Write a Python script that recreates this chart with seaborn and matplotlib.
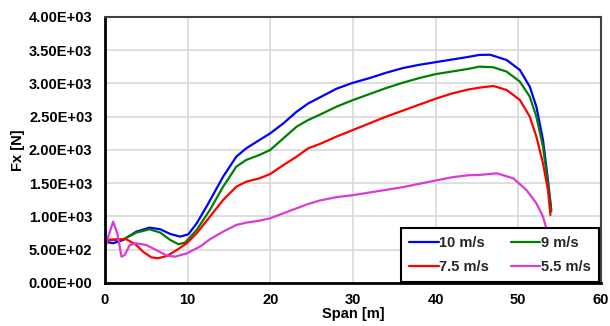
import matplotlib
matplotlib.use("Agg")
import matplotlib.pyplot as plt
import seaborn as sns
import pandas as pd

# ---- data ----
span_10 = [0, 1.0, 2.2, 3.8, 5.4, 6.7, 7.9, 9.1, 10.1, 11.1, 12.3, 14.3, 15.9, 17.1, 18.7, 20,
           21.6, 23.2, 24.6, 26, 28, 30, 32, 34, 36, 38, 40, 42, 44, 45.3, 46.6, 48.6, 50.2,
           51.4, 52.2, 53.0, 53.6, 54.0]
fx_10 = [621, 597, 647, 772, 832, 807, 737, 697, 732, 897, 1150, 1598, 1900, 2025, 2150, 2250,
         2401, 2576, 2700, 2790, 2920, 3010, 3080, 3160, 3230, 3280, 3320, 3360, 3400, 3429, 3432,
         3353, 3203, 2952, 2651, 2150, 1549, 1098]

span_9 = [0, 1.0, 2.2, 3.8, 5.4, 6.7, 7.9, 8.9, 9.7, 11.1, 12.7, 14.3, 15.9, 17.1, 18.7, 20,
          21.6, 23.2, 24.6, 26, 28, 30, 32, 34, 36, 38, 40, 42, 44, 45.3, 47.0, 48.6, 50.2,
          51.4, 52.2, 53.0, 53.6, 54.0]
fx_9 = [640, 645, 657, 757, 807, 757, 647, 582, 607, 797, 1098, 1448, 1749, 1850, 1925, 2000,
        2176, 2351, 2451, 2530, 2650, 2750, 2840, 2930, 3010, 3080, 3140, 3180, 3220, 3253, 3243,
        3178, 3028, 2802, 2501, 2050, 1499, 1073]

span_75 = [0, 1.4, 2.6, 3.8, 4.6, 5.6, 6.4, 7.5, 8.7, 9.9, 11.1, 12.7, 14.3, 15.9, 17.1, 18.7,
           20, 21.6, 23.2, 24.6, 26, 28, 30, 32, 34, 36, 38, 40, 42, 44, 45.3, 47.0, 48.6,
           50.2, 51.4, 52.2, 53.0, 53.6, 53.9]
fx_75 = [647, 657, 657, 571, 471, 386, 371, 406, 496, 597, 747, 997, 1248, 1448, 1523, 1574,
         1639, 1774, 1900, 2025, 2090, 2200, 2300, 2400, 2500, 2590, 2680, 2770, 2850, 2910,
         2937, 2962, 2902, 2752, 2501, 2200, 1800, 1398, 1022]

span_55 = [0, 0.4, 1.0, 1.5, 2.0, 2.4, 3.0, 3.8, 5.0, 6.2, 7.5, 8.5, 9.9, 11.5, 12.7, 14.3,
           15.9, 17.1, 18.7, 20, 21.6, 23.2, 24.6, 26, 28, 30, 32, 34, 36, 38, 40, 42, 44,
           45.3, 47.4, 49.4, 51.0, 52.2, 53.0, 53.4, 53.8]
fx_55 = [496, 697, 922, 747, 396, 421, 571, 597, 571, 496, 411, 396, 446, 546, 657, 772,
         872, 907, 937, 973, 1048, 1123, 1188, 1240, 1290, 1320, 1360, 1400, 1440, 1490, 1540,
         1590, 1620, 1624, 1649, 1574, 1398, 1198, 997, 822, 500]

labels = ["10 m/s", "9 m/s", "7.5 m/s", "5.5 m/s"]
colors = ["#0000ff", "#008000", "#ff0000", "#d93bd9"]
y_ticks = [0, 500, 1000, 1500, 2000, 2500, 3000, 3500, 4000]
x_ticks = [0, 10, 20, 30, 40, 50, 60]

series = [(span_10, fx_10), (span_9, fx_9), (span_75, fx_75), (span_55, fx_55)]

sns.set_theme(style="whitegrid")
plt.rcParams["font.family"] = ["Liberation Sans", "DejaVu Sans"]

fig = plt.figure(figsize=(6.1, 3.26), dpi=100)
ax = fig.add_axes([0.172, 0.132, 0.813, 0.816])

for (xs, ys), lab, col in zip(series, labels, colors):
    df = pd.DataFrame({"Span": xs, "Fx": ys})
    sns.lineplot(data=df, x="Span", y="Fx", ax=ax, color=col, lw=1.6, label=lab,
                 sort=False, estimator=None)

ax.set_xlim(0, 60)
ax.set_ylim(0, 4000)
ax.set_xticks(x_ticks)
ax.set_yticks(y_ticks)
ax.set_yticklabels([f"{v:.2E}" for v in y_ticks])
ax.grid(True, color="#d9d9d9", lw=1.2)
ax.tick_params(axis="y", length=0, labelsize=10.5, pad=9)
ax.tick_params(axis="x", length=0, labelsize=10.5, pad=7)
for t in ax.get_xticklabels() + ax.get_yticklabels():
    t.set_fontweight("bold")
    t.set_color("#000000")

ax.set_xlabel("Span [m]", fontsize=10.5, fontweight="bold", labelpad=0.5, color="#000000")
ax.set_ylabel("Fx [N]", fontsize=10.5, fontweight="bold", labelpad=3, color="#000000")

for s in ax.spines.values():
    s.set_color("#404040")
    s.set_linewidth(1.5)
ax.spines["left"].set_color("#000000")
ax.spines["left"].set_linewidth(2)
ax.spines["bottom"].set_color("#000000")
ax.spines["bottom"].set_linewidth(2)

handles, labs = ax.get_legend_handles_labels()
order = [0, 2, 1, 3]  # row-major fill: 10 & 9 on top, 7.5 & 5.5 below
leg = ax.legend([handles[i] for i in order], [labs[i] for i in order],
                loc="lower right", bbox_to_anchor=(0.996, 0.005), ncol=2, frameon=True,
                fancybox=False, framealpha=1, edgecolor="#000000", borderaxespad=0.0,
                handlelength=2.0, handletextpad=0.05, columnspacing=1.5, labelspacing=0.65,
                borderpad=0.55, prop={"weight": "bold", "size": 10.5})
leg.get_frame().set_linewidth(1.5)

fig.savefig("out.png", dpi=100)
